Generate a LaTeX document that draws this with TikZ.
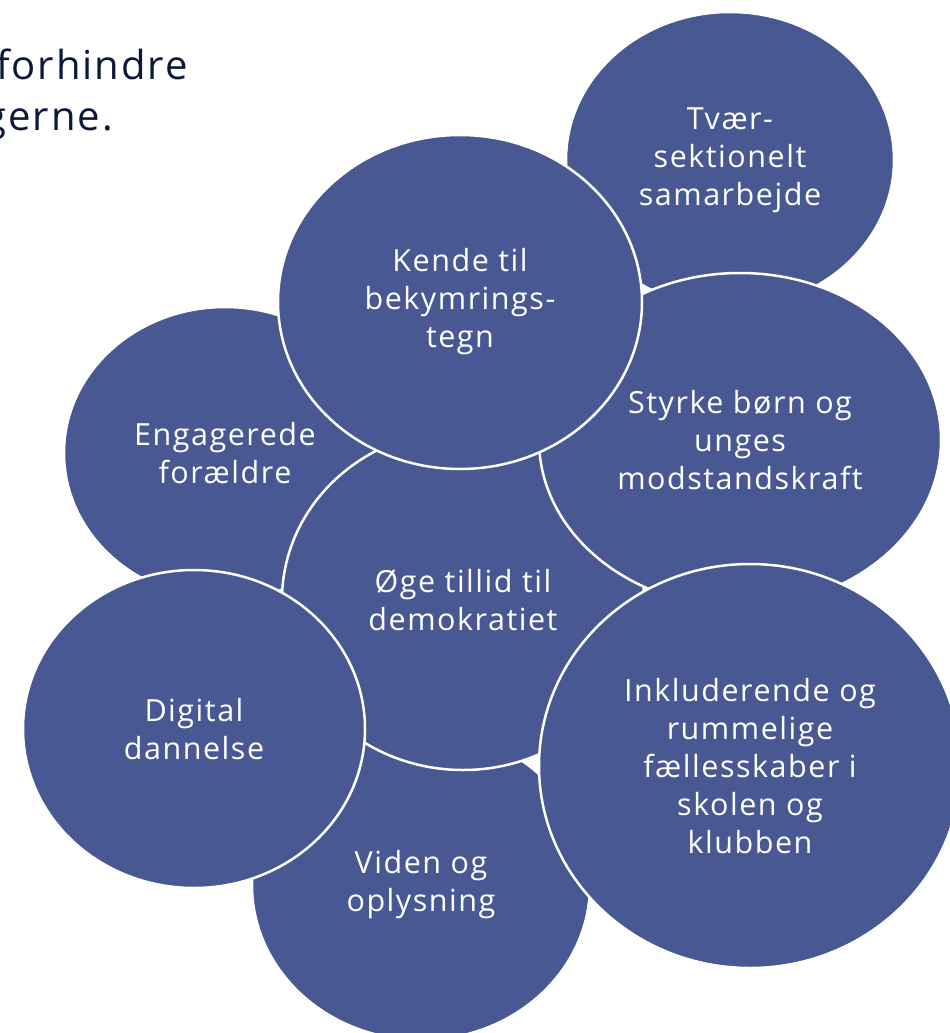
\documentclass[tikz,border=0pt]{standalone}
\usepackage{fontspec}
\setmainfont{Open Sans}[Ligatures=NoCommon, LetterSpace=5]
\usetikzlibrary{shapes.geometric}
\definecolor{bubble}{RGB}{72,88,146}
\definecolor{navy}{RGB}{12,24,58}
\tikzset{
  bub/.style={ellipse, fill=bubble, draw=white, line width=2.5pt, inner sep=0pt, outer sep=0pt,
    align=center, text=white, font=\fontsize{30.5pt}{38pt}\selectfont},
  headtxt/.style={anchor=base east, text=navy, inner sep=0pt, font=\fontsize{40pt}{50pt}\selectfont}
}
\begin{document}
\begin{tikzpicture}[x=1pt,y=-1pt]
\useasboundingbox (0,0) rectangle (950,1033);
\clip (0,0) rectangle (950,1033);
\fill[white] (0,0) rectangle (950,1033);
\node[headtxt] (h1) at (188,80) {forhindre};
\node[headtxt] (h2) at (113,130) {gerne.};
\node[bub, minimum width=328pt, minimum height=296pt] (tvaer) at (730,160) {Tvær-\\sektionelt\\samarbejde};
\node[bub, minimum width=322pt, minimum height=292pt] (eng) at (225,453) {Engagerede\\forældre};
\node[bub, minimum width=338pt, minimum height=310pt] (viden) at (421,885) {Viden og\\oplysning};
\node[bub, minimum width=362pt, minimum height=340pt] (oege) at (463,600) {Øge tillid til\\demokratiet};
\node[bub, minimum width=402pt, minimum height=334pt] (styrke) at (740,440) {Styrke børn og\\unges\\modstandskraft};
\node[bub, minimum width=422pt, minimum height=404pt] (inkl) at (750,766) {Inkluderende og\\rummelige\\fællesskaber i\\skolen og\\klubben};
\node[bub, minimum width=342pt, minimum height=318pt] (digital) at (194,729) {Digital\\dannelse};
\node[bub, minimum width=364pt, minimum height=334pt] (kende) at (460,302) {Kende til\\bekymrings-\\tegn};
\end{tikzpicture}
\end{document}
